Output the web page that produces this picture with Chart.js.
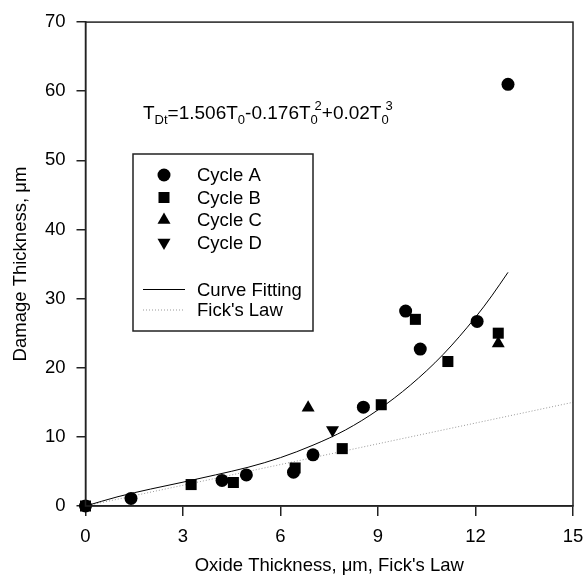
<!DOCTYPE html>
<html>
<head>
<meta charset="utf-8">
<script src="https://cdn.jsdelivr.net/npm/chart.js@4.4.0/dist/chart.umd.min.js"></script>
<style>html,body{margin:0;padding:0;background:#fff}</style>
</head>
<body>
<canvas id="c" width="585" height="580"></canvas>
<script>
// data
const cycleAx = [0, 1.4, 4.2, 4.95, 6.4, 7.0, 8.55, 9.85, 10.3, 12.05, 13.0];
const cycleAy = [0, 1.1, 3.7, 4.5, 4.9, 7.4, 14.3, 28.2, 22.7, 26.7, 61.0];
const cycleBx = [0, 3.25, 4.55, 6.45, 7.9, 9.1, 10.15, 11.15, 12.7];
const cycleBy = [0, 3.1, 3.4, 5.5, 8.3, 14.65, 27.0, 20.9, 25.0];
const cycleCx = [6.85, 12.7];
const cycleCy = [14.2, 23.5];
const cycleDx = [7.6];
const cycleDy = [11.0];
const fitX = [0, 1, 2, 3, 4, 5, 6, 7, 8, 9, 10, 11, 12, 12.5, 13];
const fitY = [0, 1.35, 2.45, 3.45, 4.5, 5.6, 7.0, 8.8, 11.0, 13.9, 17.5, 21.9, 27.3, 30.4, 33.8];
const fickX = [0, 15];
const fickY = [0, 15];
const xTicks = [0, 3, 6, 9, 12, 15];
const yTicks = [0, 10, 20, 30, 40, 50, 60, 70];
const legendLabels = ['Cycle A', 'Cycle B', 'Cycle C', 'Cycle D', 'Curve Fitting', "Fick's Law"];
const eqParts = [['T','n'],['Dt','sub'],['=1.506T','n'],['0','sub'],['-0.176T','n'],['0','sub'],['2','sup'],['+0.02T','n'],['0','sub'],['3','sup']];

const FONT = '"Liberation Sans", Arial, sans-serif';
const pts = (xs, ys) => xs.map((x, i) => ({ x, y: ys[i] }));

function marker(ctx, style, x, y) {
  ctx.beginPath();
  if (style === 'circle') ctx.arc(x, y, 6.5, 0, Math.PI * 2);
  else if (style === 'rect') ctx.rect(x - 5.5, y - 5.5, 11, 11);
  else {
    const r = 7.5, s = style === 'down' ? -1 : 1;
    ctx.moveTo(x, y - s * r);
    ctx.lineTo(x + r * 0.866, y + s * r * 0.5);
    ctx.lineTo(x - r * 0.866, y + s * r * 0.5);
    ctx.closePath();
  }
  ctx.fill();
}

const decor = {
  id: 'decor',
  afterDraw(chart) {
    const ctx = chart.ctx, a = chart.chartArea;
    ctx.save();
    ctx.strokeStyle = '#222'; ctx.lineWidth = 1.5;
    ctx.strokeRect(a.left, a.top, a.right - a.left, a.bottom - a.top);

    // equation
    ctx.fillStyle = '#000'; ctx.textBaseline = 'alphabetic'; ctx.textAlign = 'left';
    let x = 143, subX = null;
    const base = 119;
    eqParts.forEach(([t, k]) => {
      if (k === 'n') {
        ctx.font = '19px ' + FONT;
        ctx.fillText(t, x, base); x += ctx.measureText(t).width; subX = null;
      } else if (k === 'sub') {
        ctx.font = '13px ' + FONT;
        subX = x;
        ctx.fillText(t, x, base + 5); x += ctx.measureText(t).width;
      } else {
        ctx.font = '13px ' + FONT;
        const sx = subX !== null ? subX + 4 : x;
        ctx.fillText(t, sx, base - 9);
        x = Math.max(x, sx + ctx.measureText(t).width);
      }
    });

    // legend box
    ctx.lineWidth = 1.5; ctx.strokeStyle = '#222';
    ctx.strokeRect(133, 154, 180, 177);
    const rows = [175, 197.5, 220, 242.5, 289.5, 310];
    const styles = ['circle', 'rect', 'up', 'down'];
    ctx.font = '18.5px ' + FONT; ctx.textBaseline = 'middle';
    legendLabels.forEach((lab, i) => {
      const y = rows[i];
      if (i < 4) marker(ctx, styles[i], 164, y);
      else {
        ctx.beginPath();
        ctx.strokeStyle = i === 4 ? '#000' : '#999';
        ctx.lineWidth = 1;
        ctx.setLineDash(i === 4 ? [] : [1, 2]);
        ctx.moveTo(143, y); ctx.lineTo(185, y); ctx.stroke();
        ctx.setLineDash([]);
      }
      ctx.fillText(lab, 197, y + 1);
    });
    ctx.restore();
  }
};

const scatterBase = { type: 'scatter', backgroundColor: '#000', borderColor: '#000', borderWidth: 0, showLine: false, clip: false };

new Chart(document.getElementById('c'), {
  type: 'scatter',
  data: {
    datasets: [
      { ...scatterBase, label: 'Cycle A', data: pts(cycleAx, cycleAy), pointStyle: 'circle', pointRadius: 6.5 },
      { ...scatterBase, label: 'Cycle B', data: pts(cycleBx, cycleBy), pointStyle: 'rect', pointRadius: 7.8 },
      { ...scatterBase, label: 'Cycle C', data: pts(cycleCx, cycleCy), pointStyle: 'triangle', pointRadius: 7.5 },
      { ...scatterBase, label: 'Cycle D', data: pts(cycleDx, cycleDy), pointStyle: 'triangle', pointRotation: 180, pointRadius: 7.5 },
      { type: 'line', label: 'Curve Fitting', data: pts(fitX, fitY), borderColor: '#000', borderWidth: 1, pointRadius: 0, fill: false, cubicInterpolationMode: 'monotone' },
      { type: 'line', label: "Fick's Law", data: pts(fickX, fickY), borderColor: '#999', borderWidth: 1, borderDash: [1, 2], pointRadius: 0, fill: false }
    ]
  },
  options: {
    responsive: false,
    animation: false,
    layout: { padding: { left: 10, right: 0, top: 20, bottom: 3 } },
    plugins: { legend: { display: false }, tooltip: { enabled: false } },
    scales: {
      x: {
        type: 'linear', min: 0, max: 15,
        afterBuildTicks: s => { s.ticks = xTicks.map(v => ({ value: v })); },
        afterFit: s => { s.height = 71; s.paddingRight = 12; },
        ticks: { color: '#000', font: { size: 18.5, family: FONT }, padding: 10 },
        grid: { drawOnChartArea: false, tickLength: 10, color: '#222', lineWidth: 1.5 },
        border: { color: '#222', width: 1.5 },
        title: { display: true, text: 'Oxide Thickness, μm, Fick\'s Law', color: '#000', font: { size: 18.5, family: FONT }, padding: 0 }
      },
      y: {
        type: 'linear', min: 0, max: 70,
        afterBuildTicks: s => { s.ticks = yTicks.map(v => ({ value: v })); },
        afterFit: s => { s.width = 75.5; },
        ticks: { color: '#000', font: { size: 18.5, family: FONT }, padding: 11 },
        grid: { drawOnChartArea: false, tickLength: 9, color: '#222', lineWidth: 1.5 },
        border: { color: '#222', width: 1.5 },
        title: { display: true, text: 'Damage Thickness, μm', color: '#000', font: { size: 18.5, family: FONT }, padding: 0 }
      }
    }
  },
  plugins: [decor]
});
</script>
</body>
</html>
